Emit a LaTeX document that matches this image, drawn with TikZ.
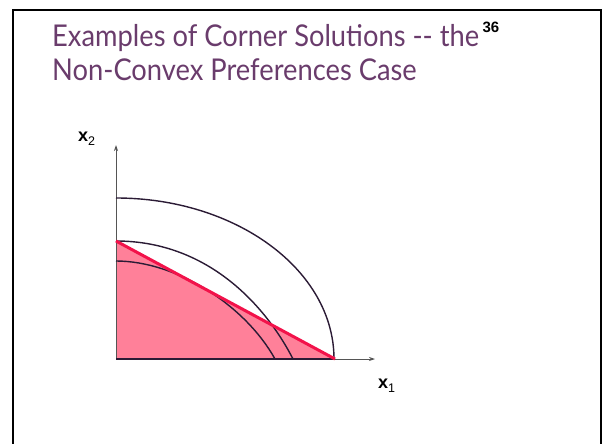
\documentclass[tikz,border=0pt]{standalone}
\usepackage{fontspec}
\setmainfont{Lato}
\newfontfamily\labelfont{Liberation Sans}
\usetikzlibrary{arrows.meta}
\definecolor{titlepurple}{HTML}{6A3C6C}
\definecolor{curvedark}{HTML}{2B1B35}
\definecolor{budgetred}{HTML}{F2124A}
\definecolor{setpink}{HTML}{FF8099}
\definecolor{axisgray}{HTML}{555555}
\newcommand{\axlabel}[1]{{\bfseries x}\raisebox{-4pt}{\fontsize{12.5}{14}\selectfont #1}}

\begin{document}
\begin{tikzpicture}[x=1pt,y=-1pt,
  ttl/.style={font=\fontsize{30}{36}\selectfont,text=titlepurple,anchor=base west,inner sep=0pt},
  lbl/.style={font=\labelfont\fontsize{18}{20}\selectfont,inner sep=0pt,anchor=base west},
  ax/.style={draw=axisgray,line width=0.8pt,-{Stealth[length=6pt,width=4pt]}},
  ic/.style={draw=curvedark,line width=1.4pt},
  bl/.style={draw=budgetred,line width=3pt}]
  \useasboundingbox (0,0) rectangle (602,444);
  % slide frame
  \draw[line width=2.5pt] (13,450) -- (13,10) -- (601,10) -- (601,450);
  % title
  \node[ttl] (line1) at (52,47) {\scalebox{0.91}[1]{Examples of Corner Solutions {-}{-} the}};
  \node[ttl] (line2) at (52,80) {\scalebox{0.91}[1]{Non-Convex Preferences Case}};
  \node[font=\labelfont\bfseries\fontsize{15}{17}\selectfont,anchor=base west,inner sep=0pt,
    xshift=3pt,yshift=14pt] (pageno) at (line1.base east) {36};
  % axes
  \coordinate (O) at (116,359);
  \coordinate (xend) at (375,359);
  \coordinate (yend) at (116,145);
  \coordinate (A) at (116,241); % x2 intercept
  \coordinate (B) at (335,359); % x1 intercept
  \fill[setpink] (A) -- (O) -- (B) -- cycle;
  \draw[ax] (O) -- (xend);
  \draw[ax] (O) -- (yend);
  \draw[curvedark,line width=1.6pt] (O) -- (B);
  \node[lbl] (x2) at (78,141) {\axlabel{2}};
  \node[lbl] (x1) at (378,388) {\axlabel{1}};
  % indifference curves
  \draw[ic] (116,198) .. controls (236,198) and (334,270) .. (334,359);
  \draw[ic] (A) .. controls (211,241) and (268,310) .. (293,359);
  \draw[ic] (116,261) .. controls (176,261) and (245,305) .. (275,359);
  % budget line
  \draw[bl] (A) -- (B);
\end{tikzpicture}
\end{document}
